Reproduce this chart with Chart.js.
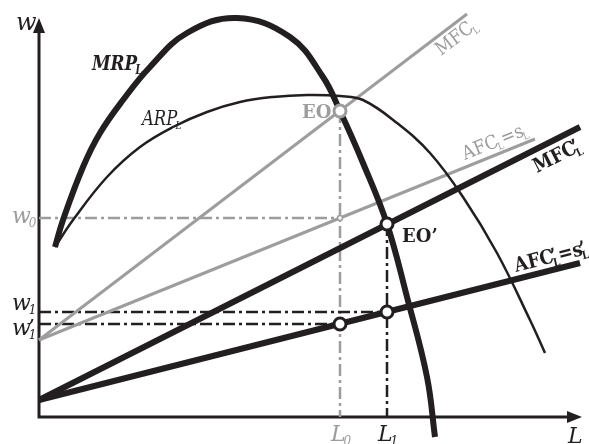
<!DOCTYPE html>
<html>
<head>
<meta charset="utf-8">
<style>
  html, body { margin: 0; padding: 0; background: #fff; }
</style>
</head>
<body>
<canvas id="chart" width="589" height="444"></canvas>
<script src="https://cdn.jsdelivr.net/npm/chart.js@4/dist/chart.umd.min.js"></script>
<script>
// 劳动量 L 与工资 w（任意单位）
let mrpL = [16, 24, 44, 61, 84, 111, 148, 198, 251, 284, 301, 324, 348, 368, 388, 396];
let mrpW = [170, 197, 250, 284, 317, 350, 384, 399, 380, 340, 306, 254, 193, 120, 40, -20];

let arpL = [16, 34, 68, 101, 134, 168, 201, 234, 268, 301, 324, 358, 391, 424, 458, 491, 506];
let arpW = [170, 197, 240, 270, 290, 305, 315, 320, 322, 321, 317, 294, 264, 220, 164, 97, 64];

// 直线：起点和终点
let mfcL = [0, 428];
let mfcW = [77, 403];
let afcL = [0, 496];
let afcW = [77, 278];
let mfc2L = [0, 541];
let mfc2W = [17, 290];
let afc2L = [0, 541];
let afc2W = [17, 154];

// 均衡点
let L0 = 301, L1 = 348;
let w0 = 199, w1 = 105, w1p = 93;
let eoW = 306, eo2W = 193;

let black = "#231f20";
let grey = "#9d9d9c";

function pts(xs, ys) {
  return xs.map((x, i) => ({ x: x, y: ys[i] }));
}

function line(data, color, width, extra) {
  return Object.assign({
    data: data,
    showLine: true,
    borderColor: color,
    borderWidth: width,
    pointRadius: 0,
    fill: false,
  }, extra || {});
}

let dash = [12, 4, 3, 4];

// 坐标轴和箭头
let axesPlugin = {
  id: "axes",
  beforeDatasetsDraw(chart) {
    let ctx = chart.ctx;
    let xs = chart.scales.x, ys = chart.scales.y;
    let ox = xs.getPixelForValue(0), oy = ys.getPixelForValue(0);
    let tx = xs.getPixelForValue(543), ty = ys.getPixelForValue(399);
    ctx.save();
    ctx.strokeStyle = black;
    ctx.fillStyle = black;
    ctx.lineWidth = 3;
    ctx.beginPath();
    ctx.moveTo(ox, ty + 10);
    ctx.lineTo(ox, oy);
    ctx.lineTo(tx - 10, oy);
    ctx.stroke();
    ctx.beginPath();
    ctx.moveTo(ox, ty);
    ctx.lineTo(ox - 6, ty + 15);
    ctx.lineTo(ox + 6, ty + 15);
    ctx.closePath();
    ctx.fill();
    ctx.beginPath();
    ctx.moveTo(tx, oy);
    ctx.lineTo(tx - 15, oy - 6);
    ctx.lineTo(tx - 15, oy + 6);
    ctx.closePath();
    ctx.fill();
    ctx.restore();
  },
};

function font(style, weight, size) {
  return style + " " + weight + " " + size + "px 'DejaVu Serif'";
}

// 画带上下标的文字
function drawRich(ctx, parts, style, weight, size) {
  let x = 0;
  let small = Math.round(size * 0.55);
  parts.forEach((p) => {
    if (p.t) {
      ctx.font = font(style, weight, size);
      ctx.fillText(p.t, x, 0);
      x += ctx.measureText(p.t).width;
    } else {
      ctx.font = font(style, weight, small);
      let w = 0;
      if (p.sub) {
        ctx.fillText(p.sub, x - 2, size * 0.2);
        w = Math.max(w, ctx.measureText(p.sub).width - 2);
      }
      if (p.sup) {
        ctx.font = font(style, weight, size);
        ctx.fillText(p.sup, x - 3, 0);
        w = Math.max(w, ctx.measureText(p.sup).width * 0.5);
      }
      x += w;
    }
  });
}

let labels = [
  { at: [-23, 387], parts: [{ t: "w" }], style: "italic", weight: "normal", size: 24, color: black },
  { at: [53, 347], parts: [{ t: "MRP" }, { sub: "L" }], style: "italic", weight: "bold", size: 21, sx: 0.8, color: black },
  { at: [103, 292], parts: [{ t: "ARP" }, { sub: "L" }], style: "italic", weight: "normal", size: 20, sx: 0.82, color: black },
  { at: [263, 299], parts: [{ t: "EO" }], style: "normal", weight: "bold", size: 18, color: grey },
  { at: [363, 175], parts: [{ t: "EO’" }], style: "normal", weight: "bold", size: 18, color: black },
  { at: [402, 361], parts: [{ t: "MFC" }, { sub: "L" }], style: "normal", weight: "normal", size: 19, sx: 0.9, color: grey, along: [mfcL, mfcW] },
  { at: [426, 257], parts: [{ t: "AFC" }, { sub: "L" }, { t: "=s" }, { sub: "L" }], style: "normal", weight: "normal", size: 19, sx: 0.9, color: grey, along: [afcL, afcW] },
  { at: [498, 244], parts: [{ t: "MFC" }, { sup: "’", sub: "L" }], style: "normal", weight: "bold", size: 20, sx: 0.88, color: black, along: [mfc2L, mfc2W] },
  { at: [477, 145], parts: [{ t: "AFC" }, { sup: "’", sub: "L" }, { t: "=s" }, { sup: "’", sub: "L" }], style: "normal", weight: "bold", size: 20, sx: 0.88, color: black, along: [afc2L, afc2W] },
  { at: [-27, 194], parts: [{ t: "w" }, { sub: "0" }], style: "italic", weight: "normal", size: 22, color: grey },
  { at: [-27, 107], parts: [{ t: "w" }, { sub: "1" }], style: "italic", weight: "normal", size: 22, color: black },
  { at: [-27, 82], parts: [{ t: "w" }, { sup: "’", sub: "1" }], style: "italic", weight: "normal", size: 22, color: black },
  { at: [292, -24], parts: [{ t: "L" }, { sub: "0" }], style: "italic", weight: "normal", size: 22, color: grey },
  { at: [339, -24], parts: [{ t: "L" }, { sub: "1" }], style: "italic", weight: "normal", size: 22, color: black },
  { at: [529, -26], parts: [{ t: "L" }], style: "italic", weight: "normal", size: 22, color: black },
];

let labelPlugin = {
  id: "labels",
  afterDraw(chart) {
    let ctx = chart.ctx;
    let xs = chart.scales.x, ys = chart.scales.y;
    labels.forEach((lb) => {
      ctx.save();
      ctx.fillStyle = lb.color;
      ctx.textBaseline = "alphabetic";
      ctx.textAlign = "left";
      ctx.translate(xs.getPixelForValue(lb.at[0]), ys.getPixelForValue(lb.at[1]));
      if (lb.along) {
        let [lx, lw] = lb.along;
        let dx = xs.getPixelForValue(lx[1]) - xs.getPixelForValue(lx[0]);
        let dy = ys.getPixelForValue(lw[1]) - ys.getPixelForValue(lw[0]);
        ctx.rotate(Math.atan2(dy, dx));
      }
      if (lb.sx) ctx.scale(lb.sx, 1);
      drawRich(ctx, lb.parts, lb.style, lb.weight, lb.size);
      ctx.restore();
    });
  },
};

let chart = new Chart(document.getElementById("chart"), {
  type: "scatter",
  data: {
    datasets: [
      // 均衡点
      {
        data: [{ x: L1, y: eo2W }, { x: L1, y: w1 }, { x: L0, y: w1p }],
        pointRadius: 6,
        pointBorderWidth: 3,
        pointBorderColor: black,
        pointBackgroundColor: "#fff",
      },
      {
        data: [{ x: L0, y: eoW }],
        pointRadius: 6,
        pointBorderWidth: 3,
        pointBorderColor: grey,
        pointBackgroundColor: "#fff",
      },
      {
        data: [{ x: L0, y: w0 }],
        pointRadius: 2.5,
        pointBorderWidth: 1.5,
        pointBorderColor: grey,
        pointBackgroundColor: "#fff",
      },
      line(pts(mrpL, mrpW), black, 6, { tension: 0.4 }),
      line(pts(arpL, arpW), black, 2.5, { tension: 0.4 }),
      line(pts(mfc2L, mfc2W), black, 6),
      line(pts(afc2L, afc2W), black, 6),
      line(pts(mfcL, mfcW), grey, 3),
      line(pts(afcL, afcW), grey, 3),
      // 虚线
      line([{ x: 0, y: w1 }, { x: L1, y: w1 }], black, 2.5, { borderDash: dash }),
      line([{ x: 0, y: w1p }, { x: L0, y: w1p }], black, 2.5, { borderDash: dash }),
      line([{ x: L1, y: eo2W }, { x: L1, y: 0 }], black, 2.5, { borderDash: dash }),
      line([{ x: 0, y: w0 }, { x: L0, y: w0 }], grey, 2.5, { borderDash: dash }),
      line([{ x: L0, y: eoW }, { x: L0, y: 0 }], grey, 2.5, { borderDash: dash }),
    ],
  },
  options: {
    responsive: false,
    animation: false,
    layout: { padding: 0, autoPadding: false },
    scales: {
      x: { type: "linear", min: -39, max: 550, display: false },
      y: { type: "linear", min: -27, max: 417, display: false },
    },
    plugins: {
      legend: { display: false },
      tooltip: { enabled: false },
    },
  },
  plugins: [axesPlugin, labelPlugin],
});
</script>
</body>
</html>
